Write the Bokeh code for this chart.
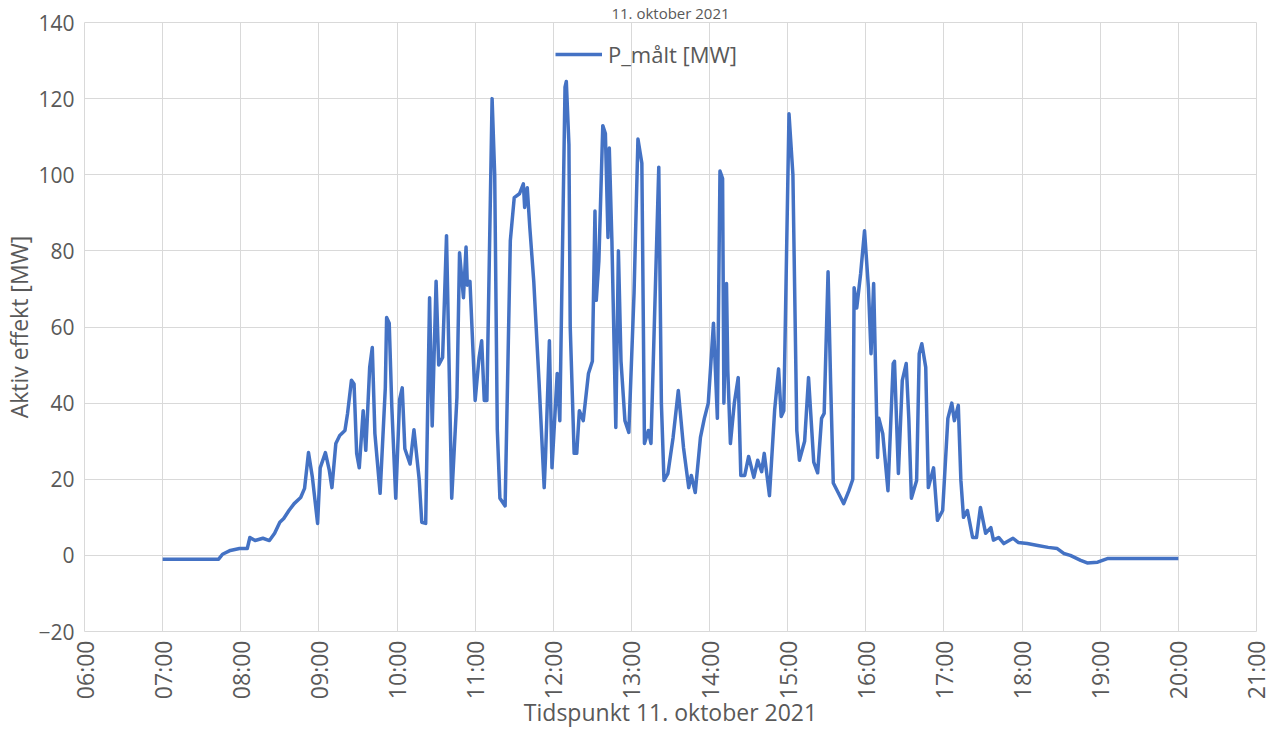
from math import pi
from bokeh.plotting import figure
from bokeh.models import Range1d, FixedTicker, Legend, LegendItem
from bokeh.embed import file_html
from bokeh.resources import INLINE

title_text = "11. oktober 2021"
x_title = "Tidspunkt 11. oktober 2021"
y_title = "Aktiv effekt [MW]"
series_name = "P_målt [MW]"

times = [
    "07:00", "07:43", "07:46", "07:52", "07:59", "08:05", "08:07", "08:11", "08:17", "08:22",
    "08:26", "08:30", "08:33", "08:37", "08:41", "08:46", "08:49", "08:52", "08:55", "08:59",
    "09:01", "09:05", "09:08", "09:10", "09:13", "09:16", "09:20", "09:22", "09:25", "09:27",
    "09:29", "09:31", "09:34", "09:36", "09:39", "09:41", "09:43", "09:47", "09:51", "09:52",
    "09:54", "09:56", "09:59", "10:02", "10:04", "10:06", "10:10", "10:13", "10:17", "10:19",
    "10:22", "10:25", "10:27", "10:30", "10:32", "10:35", "10:38", "10:42", "10:46", "10:48",
    "10:51", "10:53", "10:54", "10:56", "11:00", "11:03", "11:05", "11:07", "11:09", "11:13",
    "11:15", "11:17", "11:19", "11:23", "11:27", "11:30", "11:34", "11:37", "11:38", "11:40",
    "11:42", "11:45", "11:49", "11:53", "11:54", "11:57", "11:59", "12:03", "12:05", "12:09",
    "12:10", "12:12", "12:13", "12:16", "12:18", "12:20", "12:23", "12:27", "12:30", "12:32",
    "12:33", "12:35", "12:38", "12:40", "12:42", "12:43", "12:45", "12:48", "12:50", "12:52",
    "12:55", "12:58", "13:02", "13:05", "13:08", "13:10", "13:13", "13:15", "13:21", "13:23",
    "13:25", "13:28", "13:32", "13:36", "13:40", "13:44", "13:46", "13:49", "13:53", "13:56",
    "13:59", "14:03", "14:06", "14:08", "14:10", "14:11", "14:13", "14:14", "14:16", "14:19",
    "14:22", "14:24", "14:27", "14:30", "14:34", "14:37", "14:40", "14:42", "14:46", "14:50",
    "14:53", "14:55", "14:57", "15:01", "15:04", "15:07", "15:09", "15:13", "15:16", "15:20",
    "15:23", "15:26", "15:28", "15:31", "15:33", "15:35", "15:39", "15:43", "15:47", "15:50",
    "15:51", "15:53", "15:56", "15:59", "16:02", "16:04", "16:06", "16:09", "16:10", "16:13",
    "16:17", "16:21", "16:22", "16:25", "16:28", "16:31", "16:33", "16:35", "16:39", "16:41",
    "16:43", "16:46", "16:48", "16:52", "16:55", "16:59", "17:03", "17:06", "17:08", "17:11",
    "17:13", "17:15", "17:18", "17:22", "17:25", "17:28", "17:32", "17:36", "17:38", "17:42",
    "17:46", "17:53", "17:57", "18:04", "18:12", "18:20", "18:27", "18:32", "18:37", "18:45",
    "18:50", "18:58", "19:06", "20:00",
]

values = [
    -1.0, -1.0, 0.3, 1.3, 1.8, 1.8, 4.7, 3.9, 4.5, 3.9,
    5.8, 8.7, 9.7, 11.8, 13.6, 15.2, 17.6, 27.0, 20.5, 8.4,
    23.0, 27.0, 22.3, 17.8, 29.4, 31.5, 32.8, 37.3, 46.0, 45.0,
    26.8, 23.0, 38.0, 27.6, 49.4, 54.6, 32.0, 16.3, 44.0, 62.5,
    61.0, 39.0, 15.0, 41.0, 44.0, 28.0, 24.0, 33.0, 20.0, 8.7,
    8.4, 67.7, 34.0, 72.0, 50.0, 52.0, 84.0, 15.0, 41.5, 79.5,
    67.7, 81.0, 71.0, 72.0, 40.7, 52.0, 56.4, 40.7, 40.7, 120.0,
    100.0, 33.0, 15.0, 13.0, 82.7, 94.0, 95.0, 97.6, 91.4, 96.6,
    86.0, 72.0, 46.0, 17.8, 25.7, 56.4, 23.0, 47.8, 35.4, 123.0,
    124.5, 108.0, 60.0, 26.8, 26.8, 38.0, 35.4, 47.8, 51.0, 90.5,
    67.0, 77.4, 112.9, 110.8, 83.5, 107.0, 82.7, 33.6, 80.0, 51.0,
    35.4, 32.3, 68.8, 109.4, 103.0, 29.4, 32.8, 29.4, 102.0, 40.0,
    19.7, 21.5, 31.0, 43.3, 28.3, 17.8, 21.0, 16.5, 31.0, 36.0,
    40.0, 61.0, 36.0, 101.0, 99.0, 40.0, 71.4, 48.6, 29.4, 40.0,
    46.7, 21.0, 21.0, 26.0, 20.5, 25.0, 22.0, 26.8, 15.7, 38.3,
    49.0, 36.5, 38.0, 116.0, 100.0, 32.8, 25.0, 30.0, 46.7, 24.5,
    21.7, 36.0, 37.3, 74.5, 45.0, 19.0, 16.3, 13.6, 17.0, 20.0,
    70.3, 65.0, 74.0, 85.3, 70.3, 53.0, 71.4, 25.7, 36.0, 32.0,
    17.0, 50.4, 51.0, 21.5, 46.0, 50.4, 36.0, 15.0, 19.7, 53.0,
    55.6, 49.4, 17.8, 23.0, 9.2, 11.8, 36.0, 40.0, 35.4, 39.4,
    19.7, 10.0, 11.8, 4.7, 4.7, 12.6, 5.8, 7.3, 4.0, 4.7,
    3.1, 4.5, 3.4, 3.1, 2.6, 2.1, 1.8, 0.5, 0.0, -1.3,
    -2.0, -1.8, -0.8, -0.8,
]

x_tick_hours = list(range(6, 22))
x_tick_labels = ["06:00", "07:00", "08:00", "09:00", "10:00", "11:00", "12:00", "13:00",
                 "14:00", "15:00", "16:00", "17:00", "18:00", "19:00", "20:00", "21:00"]
y_ticks = [-20, 0, 20, 40, 60, 80, 100, 120, 140]


def to_hours(s):
    h, m = s.split(":")
    return int(h) + int(m) / 60.0


x = [to_hours(t) for t in times]

FONT = "Open Sans"
TXT = "#595959"
GRID = "#d9d9d9"
BLUE = "#4472C4"

W, H = 1271, 732
B_LEFT, B_RIGHT, B_TOP, B_BOTTOM = 82, 15, 19, 101

p = figure(width=W, height=H, output_backend="svg", toolbar_location=None,
           x_range=Range1d(6, 21), y_range=Range1d(-20, 140),
           min_border_left=B_LEFT, min_border_right=B_RIGHT,
           min_border_top=B_TOP, min_border_bottom=B_BOTTOM,
           title=title_text)
p.background_fill_color = "white"
p.border_fill_color = "white"
p.outline_line_color = GRID

p.title.align = "center"
p.title.offset = -29
p.title.standoff = 0
p.title.text_font = FONT
p.title.text_font_size = "15px"
p.title.text_font_style = "normal"
p.title.text_color = TXT

r = p.line(x, values, line_color=BLUE, line_width=3.5, line_join="round")

# x axis
xa = p.xaxis[0]
xa.ticker = FixedTicker(ticks=x_tick_hours)
xa.major_label_overrides = {h: lab for h, lab in zip(x_tick_hours, x_tick_labels)}
xa.major_label_orientation = pi / 2
xa.axis_line_color = None
xa.major_tick_line_color = None
xa.minor_tick_line_color = None
xa.major_tick_out = 0
xa.major_tick_in = 0
xa.major_label_standoff = 9
xa.major_label_text_font = FONT
xa.major_label_text_font_size = "23px"
xa.major_label_text_color = TXT
xa.axis_label = x_title
xa.axis_label_text_font = FONT
xa.axis_label_text_font_size = "23px"
xa.axis_label_text_font_style = "normal"
xa.axis_label_text_color = TXT
xa.axis_label_standoff = -6

# y axis
ya = p.yaxis[0]
ya.ticker = FixedTicker(ticks=y_ticks)
ya.axis_line_color = None
ya.major_tick_line_color = None
ya.minor_tick_line_color = None
ya.major_tick_out = 0
ya.major_tick_in = 0
ya.major_label_standoff = 10
ya.major_label_text_font = FONT
ya.major_label_text_font_size = "21px"
ya.major_label_text_color = TXT
ya.axis_label = y_title
ya.axis_label_text_font = FONT
ya.axis_label_text_font_size = "23px"
ya.axis_label_text_font_style = "normal"
ya.axis_label_text_color = TXT
ya.axis_label_standoff = 0

p.xgrid.ticker = FixedTicker(ticks=x_tick_hours)
p.ygrid.ticker = FixedTicker(ticks=y_ticks)
p.grid.grid_line_color = GRID
p.grid.grid_line_width = 1

legend = Legend(items=[LegendItem(label=series_name, renderers=[r])],
                location=(471, 562), glyph_width=47, glyph_height=24, label_height=24,
                label_standoff=6, padding=0, margin=0, spacing=0,
                border_line_color=None, background_fill_alpha=0,
                label_text_font=FONT, label_text_font_size="22px",
                label_text_color=TXT)
p.add_layout(legend)

open("out.html", "w").write(file_html(p, INLINE))
